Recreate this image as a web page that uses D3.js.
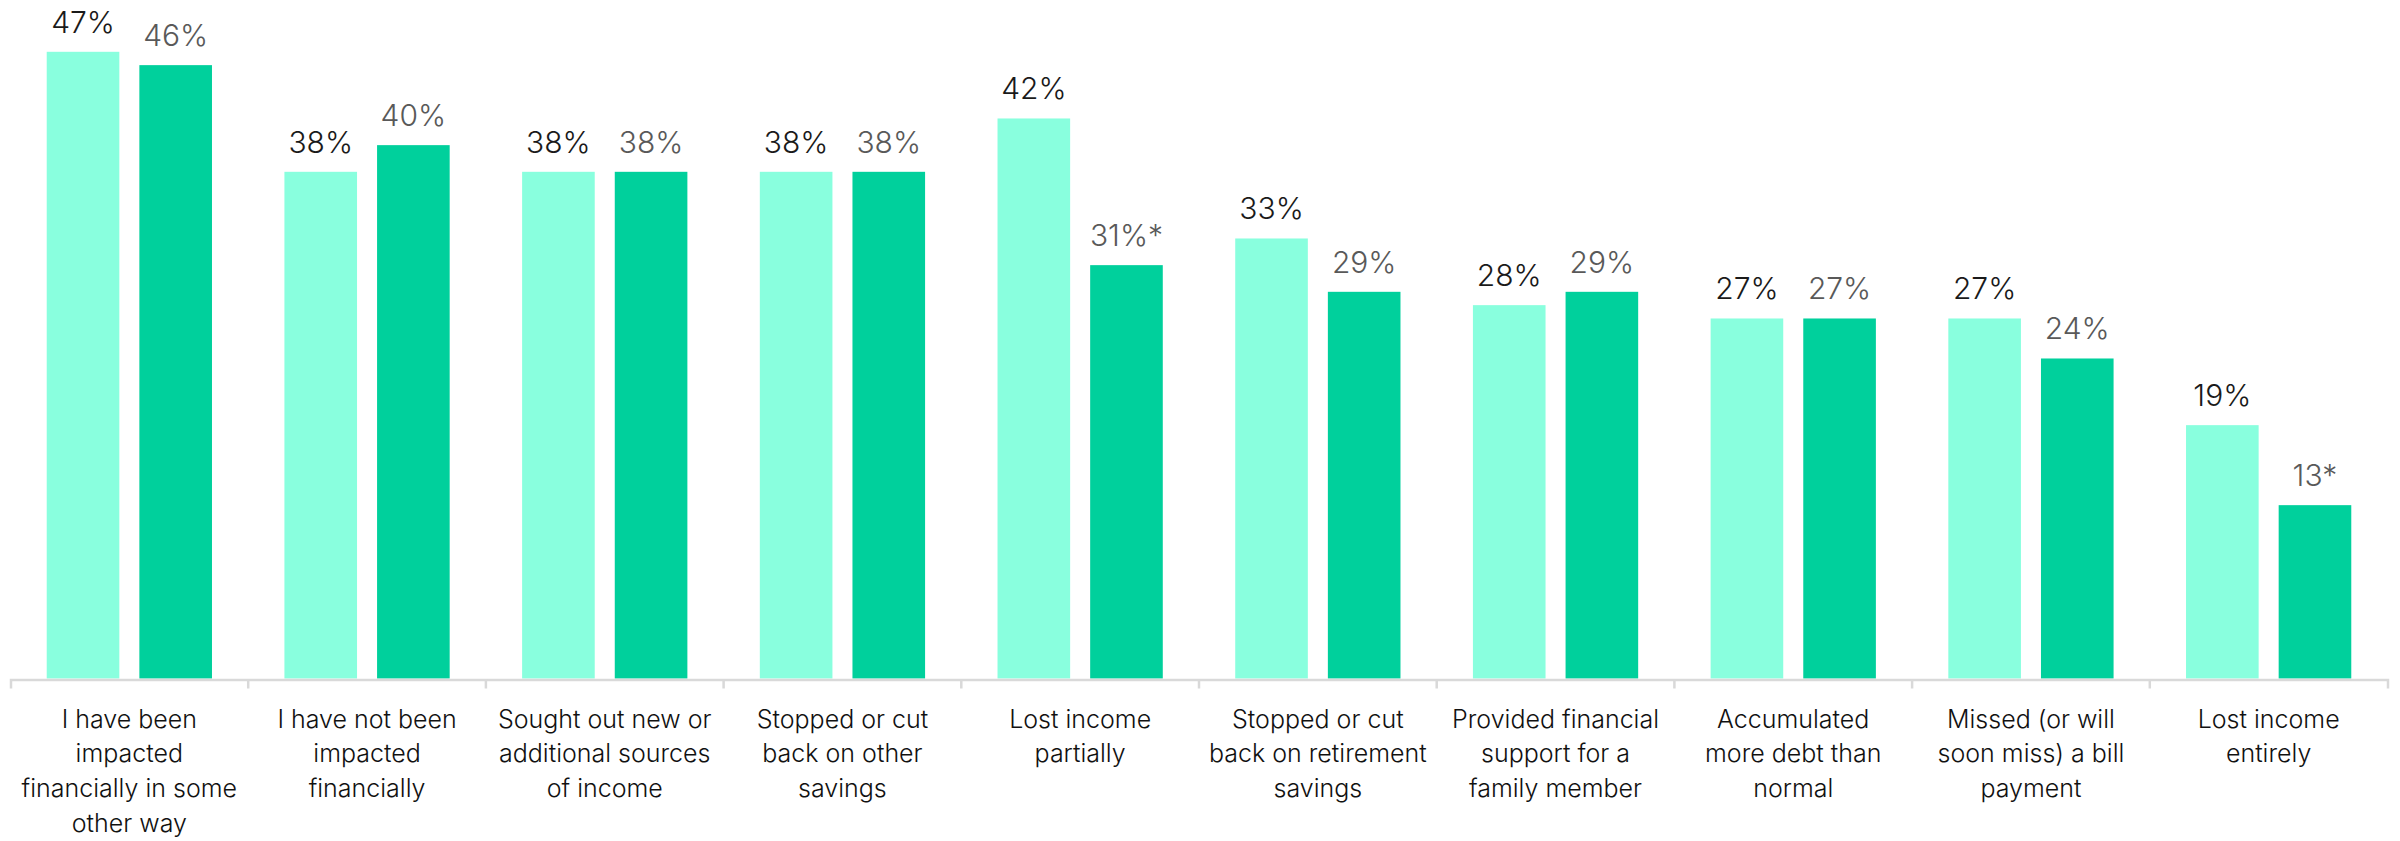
<!DOCTYPE html>
<html>
<head>
<meta charset="utf-8">
<script src="https://cdn.jsdelivr.net/npm/d3@7"></script>
<style>
  html, body { margin: 0; padding: 0; background: #ffffff; }
  svg { display: block; }
  .val { font-family: Inter, "Liberation Sans", Arial, sans-serif; font-weight: 300; }
  .cat { font-family: Inter, "Liberation Sans", Arial, sans-serif; font-weight: 300; }
</style>
</head>
<body>
<svg id="chart" width="2400" height="841"></svg>
<script>
// Financial actions taken, two survey waves
const categories = [
  ["I have been", "impacted", "financially in some", "other way"],
  ["I have not been", "impacted", "financially"],
  ["Sought out new or", "additional sources", "of income"],
  ["Stopped or cut", "back on other", "savings"],
  ["Lost income", "partially"],
  ["Stopped or cut", "back on retirement", "savings"],
  ["Provided financial", "support for a", "family member"],
  ["Accumulated", "more debt than", "normal"],
  ["Missed (or will", "soon miss) a bill", "payment"],
  ["Lost income", "entirely"]
];
const seriesKeys = ["wave1", "wave2"];
const wave1Values = [47, 38, 38, 38, 42, 33, 28, 27, 27, 19];
const wave2Values = [46, 40, 38, 38, 31, 29, 29, 27, 24, 13];
const wave1Labels = ["47%", "38%", "38%", "38%", "42%", "33%", "28%", "27%", "27%", "19%"];
const wave2Labels = ["46%", "40%", "38%", "38%", "31%*", "29%", "29%", "27%", "24%", "13*"];

const colors = { wave1: "#89FFDE", wave2: "#00D09C" };
const labelColors = { wave1: "#1a1a1a", wave2: "#595959" };

const svg = d3.select("#chart");
const baseY = 678.5;
const catKeys = categories.map((c, i) => i);

const x0 = d3.scaleBand().domain(catKeys).range([10.5, 2387.5]).paddingInner(0).paddingOuter(0);
const x1 = d3.scaleBand().domain(seriesKeys).range([0, x0.bandwidth()])
  .paddingInner(0.2162).paddingOuter(0.391);
const y = d3.scaleLinear().domain([0, 50]).range([baseY, 11.8]);

const rows = catKeys.map(i => ({
  i,
  values: [
    { key: "wave1", v: wave1Values[i], label: wave1Labels[i] },
    { key: "wave2", v: wave2Values[i], label: wave2Labels[i] }
  ]
}));

const groups = svg.append("g").selectAll("g").data(rows).join("g")
  .attr("transform", d => `translate(${x0(d.i)},0)`);

groups.selectAll("rect").data(d => d.values).join("rect")
  .attr("x", d => x1(d.key))
  .attr("width", x1.bandwidth())
  .attr("y", d => y(d.v))
  .attr("height", d => y(0) - y(d.v))
  .attr("fill", d => colors[d.key]);

groups.selectAll("text").data(d => d.values).join("text")
  .attr("class", "val")
  .attr("x", d => x1(d.key) + x1.bandwidth() / 2)
  .attr("y", d => y(d.v) - 19)
  .attr("text-anchor", "middle")
  .attr("font-size", 30)
  .attr("fill", d => labelColors[d.key])
  .text(d => d.label);

// Axis along the baseline with ticks at band boundaries
const axisG = svg.append("g").attr("transform", `translate(0,${baseY + 1})`);
axisG.call(d3.axisBottom(x0).tickSize(0).tickSizeOuter(9).tickFormat(() => ""));
axisG.select(".domain").attr("stroke", "#d9d9d9").attr("stroke-width", 2.5);
axisG.selectAll(".tick").remove();

const bounds = catKeys.slice(1).map(i => x0(i));
axisG.selectAll("line.bound").data(bounds).join("line")
  .attr("class", "bound")
  .attr("x1", d => d).attr("x2", d => d)
  .attr("y1", 0).attr("y2", 9)
  .attr("stroke", "#d9d9d9").attr("stroke-width", 2.5);

// Category labels, one tspan per line
const cat = svg.append("g").selectAll("text").data(rows).join("text")
  .attr("class", "cat")
  .attr("text-anchor", "middle")
  .attr("font-size", 25)
  .attr("fill", "#111111")
  .attr("x", d => x0(d.i) + x0.bandwidth() / 2)
  .attr("y", 727.5);

cat.selectAll("tspan").data(d => categories[d.i].map(line => ({ line, x: x0(d.i) + x0.bandwidth() / 2 })))
  .join("tspan")
  .attr("x", d => d.x)
  .attr("dy", (d, j) => j === 0 ? 0 : 34.7)
  .text(d => d.line);
</script>
</body>
</html>
